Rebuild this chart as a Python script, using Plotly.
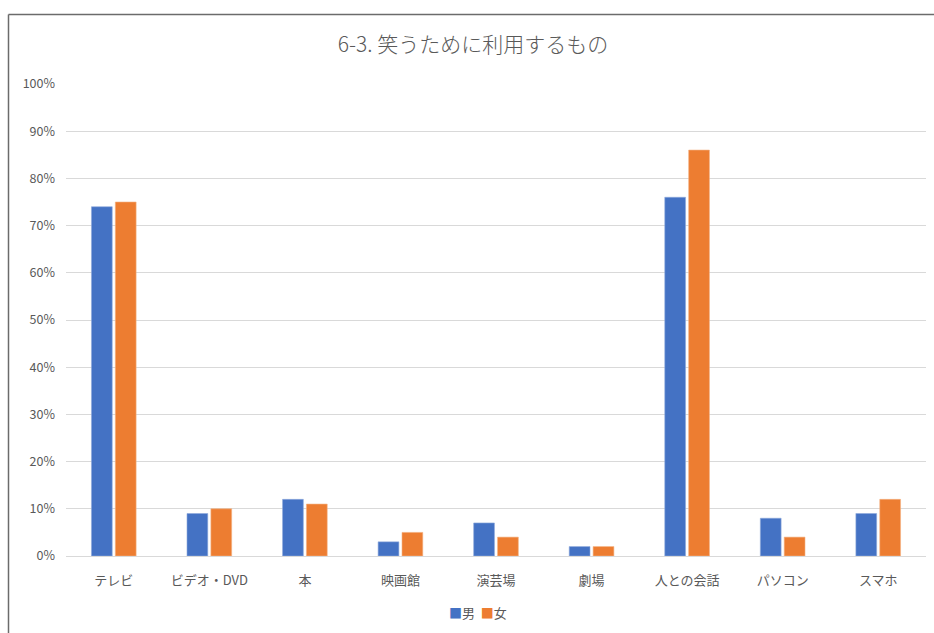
import plotly.graph_objects as go

categories = ["テレビ", "ビデオ・DVD", "本", "映画館", "演芸場", "劇場", "人との会話", "パソコン", "スマホ"]
male = [0.74, 0.09, 0.12, 0.03, 0.07, 0.02, 0.76, 0.08, 0.09]
female = [0.75, 0.10, 0.11, 0.05, 0.04, 0.02, 0.86, 0.04, 0.12]
y_ticks = [0, 0.1, 0.2, 0.3, 0.4, 0.5, 0.6, 0.7, 0.8, 0.9, 1.0]
series_names = ["男", "女"]
series_colors = ["#4472C4", "#ED7D31"]

W, H = 934, 633
L, R, T, B = 66, 8, 84, 77
pw, ph = W - L - R, H - T - B

font_family = "Noto Sans CJK JP, Noto Sans, sans-serif"
grey = "#595959"

fig = go.Figure()
fig.add_trace(go.Bar(name=series_names[0], x=categories, y=male,
                     marker=dict(color=series_colors[0], line=dict(color="#8faadc", width=0.6))))
fig.add_trace(go.Bar(name=series_names[1], x=categories, y=female,
                     marker=dict(color=series_colors[1], line=dict(color="#f4b183", width=0.6))))


def px_x(p):
    return (p - L) / pw


def px_y(p):
    return (H - B - p) / ph


# outer frame of the chart area (top and left edges visible)
fig.add_shape(type="line", xref="paper", yref="paper",
              x0=px_x(8.5), x1=px_x(940), y0=px_y(14.5), y1=px_y(14.5),
              line=dict(color="#6b6b6b", width=1.5))
fig.add_shape(type="line", xref="paper", yref="paper",
              x0=px_x(8.5), x1=px_x(8.5), y0=px_y(14.5), y1=px_y(640),
              line=dict(color="#6b6b6b", width=1.5))

# compact legend: coloured squares followed by series names
legend_text = "  ".join(
    f"<span style='color:{c}'>■</span>{n}" for n, c in zip(series_names, series_colors)
)
fig.add_annotation(text=legend_text, xref="paper", yref="paper",
                   x=px_x(478), y=px_y(612), xanchor="center", yanchor="middle",
                   showarrow=False, font=dict(size=13, color=grey, family=font_family))

fig.update_layout(
    width=W, height=H,
    margin=dict(l=L, r=R, t=T, b=B),
    paper_bgcolor="white", plot_bgcolor="white",
    barmode="group", bargap=0.5, bargroupgap=0.13,
    font=dict(family=font_family, color=grey, size=12),
    title=dict(text="6-3. 笑うために利用するもの", x=px_x(473), xref="paper", xanchor="center",
               y=1 - 45 / H, yanchor="middle",
               font=dict(size=21, color=grey, family=font_family, weight=300)),
    showlegend=False,
)
fig.update_xaxes(showgrid=False, showline=True, linecolor="#d9d9d9", linewidth=1,
                 ticks="", tickfont=dict(size=13, color=grey), ticklabelstandoff=12)
fig.update_yaxes(range=[0, 1.0], tickvals=y_ticks, tickformat=".0%",
                 showgrid=True, gridcolor="#d9d9d9", gridwidth=1, zeroline=False,
                 showline=False, ticks="", tickfont=dict(size=12.5, color=grey),
                 ticklabelstandoff=10)

fig.write_html("out.html")
